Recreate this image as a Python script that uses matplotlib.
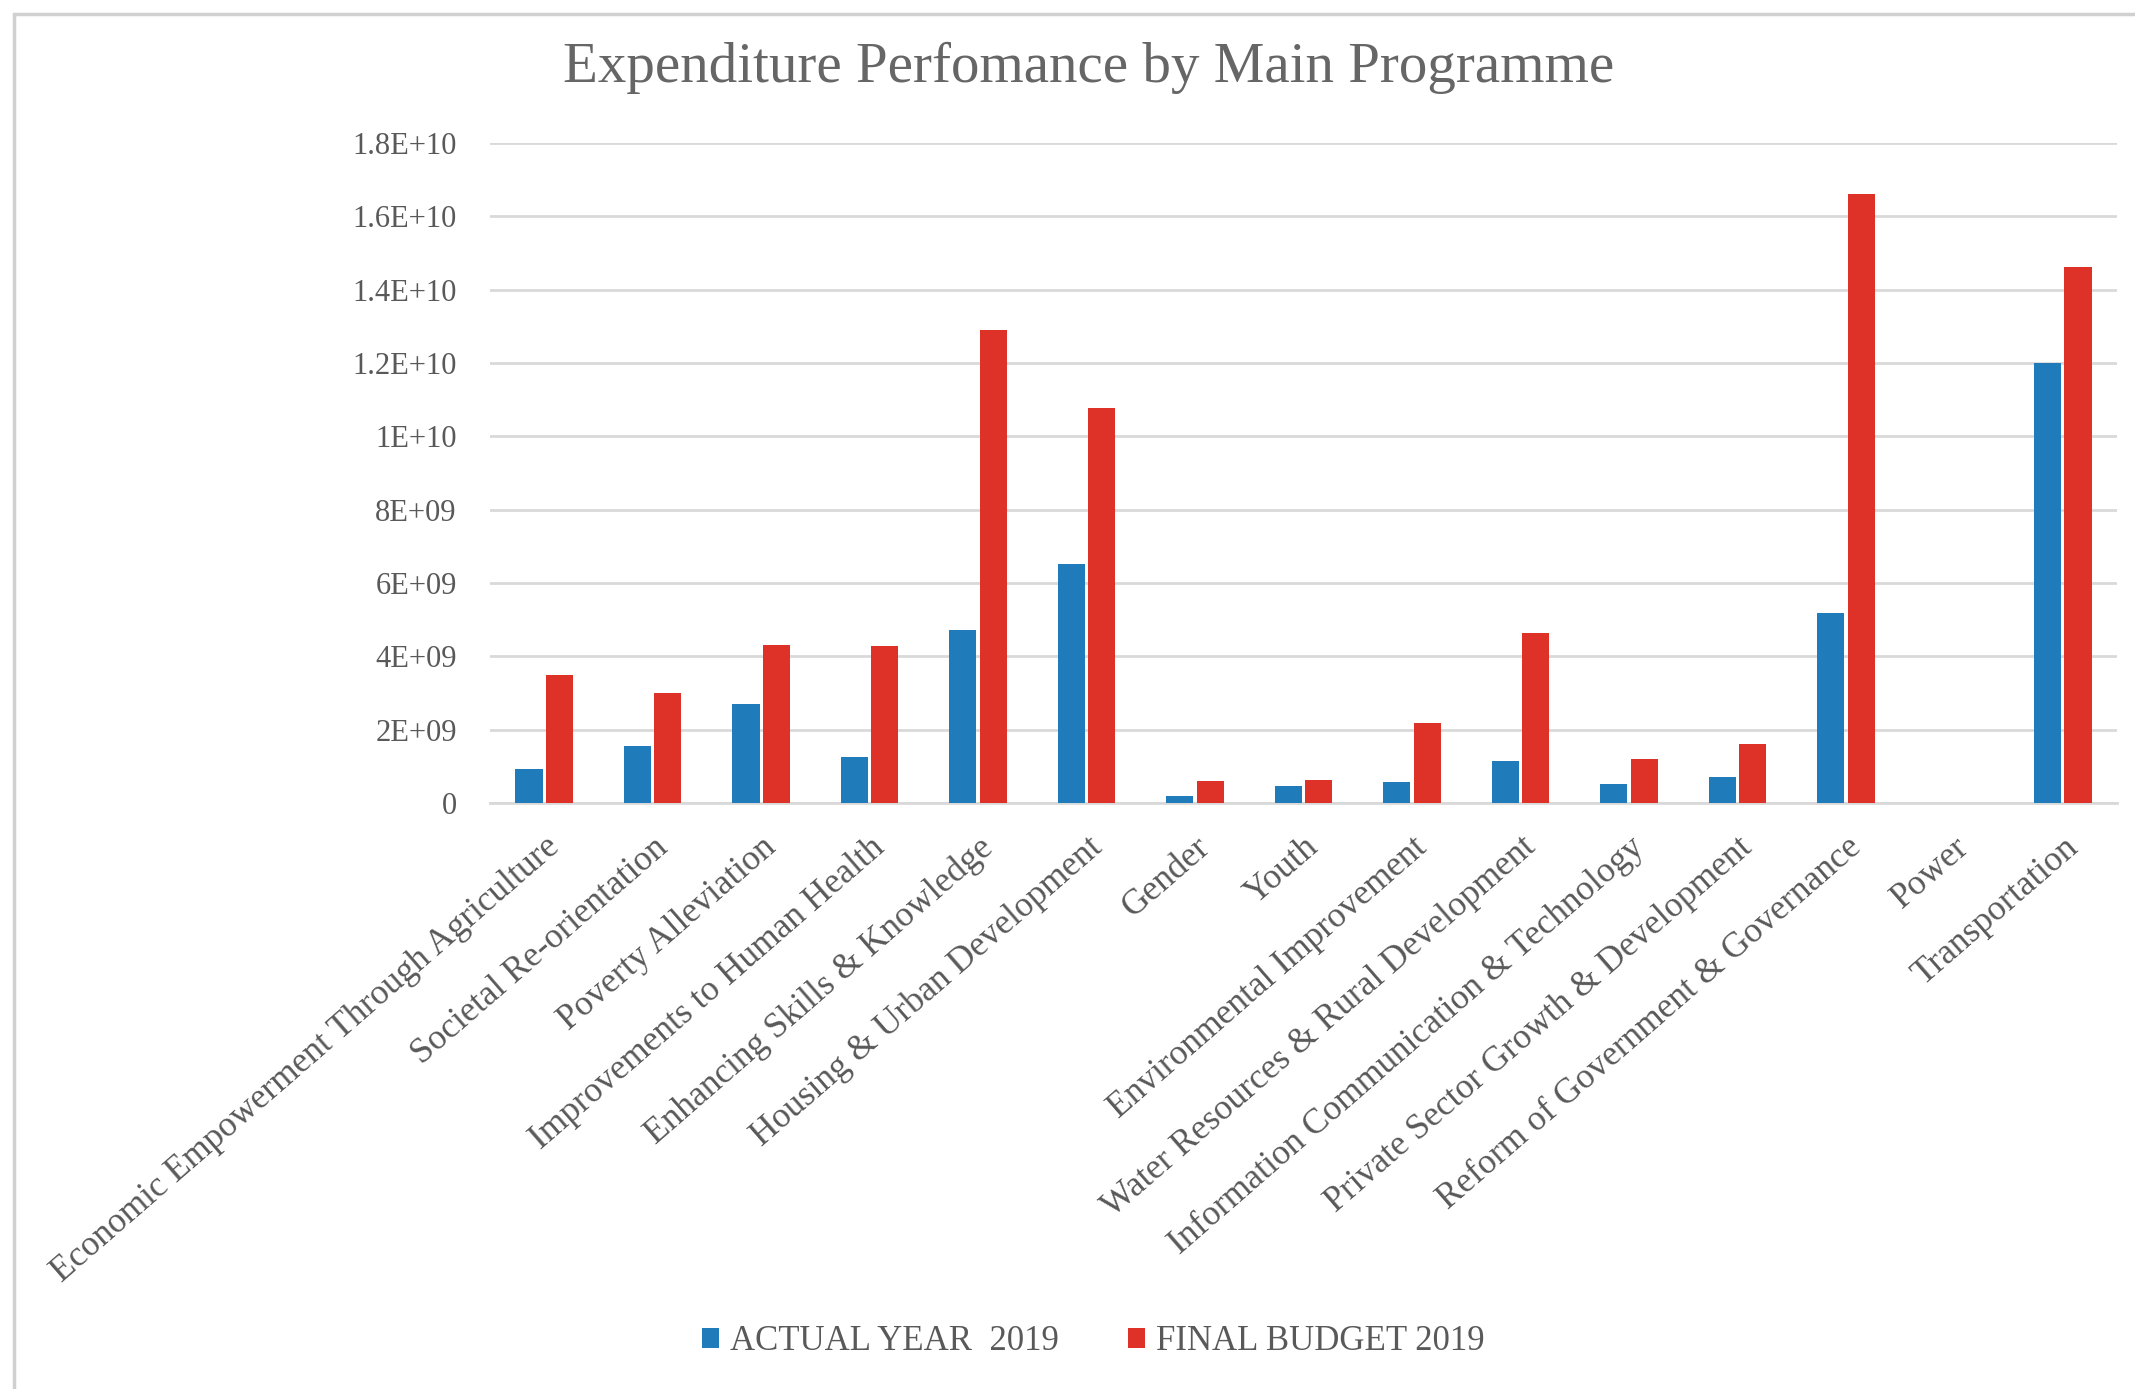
import matplotlib
matplotlib.use("Agg")
import matplotlib.pyplot as plt
import numpy as np
from matplotlib.patches import Rectangle

# programme names (x axis)
programmes = [
    "Economic Empowerment Through Agriculture",
    "Societal Re-orientation",
    "Poverty Alleviation",
    "Improvements to Human Health",
    "Enhancing Skills & Knowledge",
    "Housing & Urban Development",
    "Gender",
    "Youth",
    "Environmental Improvement",
    "Water Resources & Rural Development",
    "Information Communication & Technology",
    "Private Sector Growth & Development",
    "Reform of Government & Governance",
    "Power",
    "Transportation",
]

# values
actual_2019 = [0.93e9, 1.56e9, 2.71e9, 1.26e9, 4.71e9, 6.53e9, 0.19e9, 0.45e9,
               0.56e9, 1.15e9, 0.52e9, 0.72e9, 5.18e9, 0.0, 12.0e9]
budget_2019 = [3.49e9, 3.0e9, 4.3e9, 4.27e9, 12.9e9, 10.76e9, 0.6e9, 0.63e9,
               2.19e9, 4.64e9, 1.19e9, 1.62e9, 16.62e9, 0.0, 14.61e9]

y_ticks = [0, 2e9, 4e9, 6e9, 8e9, 1e10, 1.2e10, 1.4e10, 1.6e10, 1.8e10]
y_tick_labels = ["0", "2E+09", "4E+09", "6E+09", "8E+09", "1E+10",
                 "1.2E+10", "1.4E+10", "1.6E+10", "1.8E+10"]

blue = "#1F7BBA"
red = "#DE3229"
grey_text = "#595959"
font = "Liberation Serif"

fig = plt.figure(figsize=(21.35, 13.89), dpi=100)
ax = fig.add_axes([0.2295, 0.4219, 0.7621, 0.4751])

# outer chart border
fig.patches.append(Rectangle((14 / 2135, -0.05), 1.2, 1 - 14 / 1389 + 0.05,
                             transform=fig.transFigure, fill=False,
                             edgecolor="#d0d0d0", linewidth=2.5))

x = np.arange(len(programmes))
w = 0.25
ax.bar(x - 0.14, actual_2019, width=w, color=blue, label="ACTUAL YEAR  2019", zorder=3)
ax.bar(x + 0.14, budget_2019, width=w, color=red, label="FINAL BUDGET 2019", zorder=3)

ax.set_xlim(-0.5, len(programmes) - 0.5)
ax.set_ylim(0, 1.8e10)
ax.set_yticks(y_ticks)
ax.set_yticklabels(y_tick_labels, fontsize=22, color=grey_text, family=font)
ax.set_xticks(x)
ax.set_xticklabels(programmes, rotation=41, ha="right", rotation_mode="anchor",
                   fontsize=25.5, color=grey_text, family=font)
ax.tick_params(axis="y", length=0, pad=24)
ax.tick_params(axis="x", length=0, pad=20)

ax.grid(axis="y", color="#d9d9d9", linewidth=2)
ax.set_axisbelow(True)
for s in ["top", "right", "left"]:
    ax.spines[s].set_visible(False)
ax.spines["bottom"].set_color("#d9d9d9")
ax.spines["bottom"].set_linewidth(2)

fig.text(0.51, 0.951, "Expenditure Perfomance by Main Programme", ha="center", va="center",
         fontsize=41, color="#666666", family=font)

leg = fig.legend(loc="center", bbox_to_anchor=(0.512, 0.034), ncol=2, frameon=False,
                 prop={"family": font, "size": 25}, handlelength=0.5, handleheight=0.5,
                 handletextpad=0.3, columnspacing=2.0)
for t in leg.get_texts():
    t.set_color(grey_text)

fig.savefig("out.png", dpi=100)
